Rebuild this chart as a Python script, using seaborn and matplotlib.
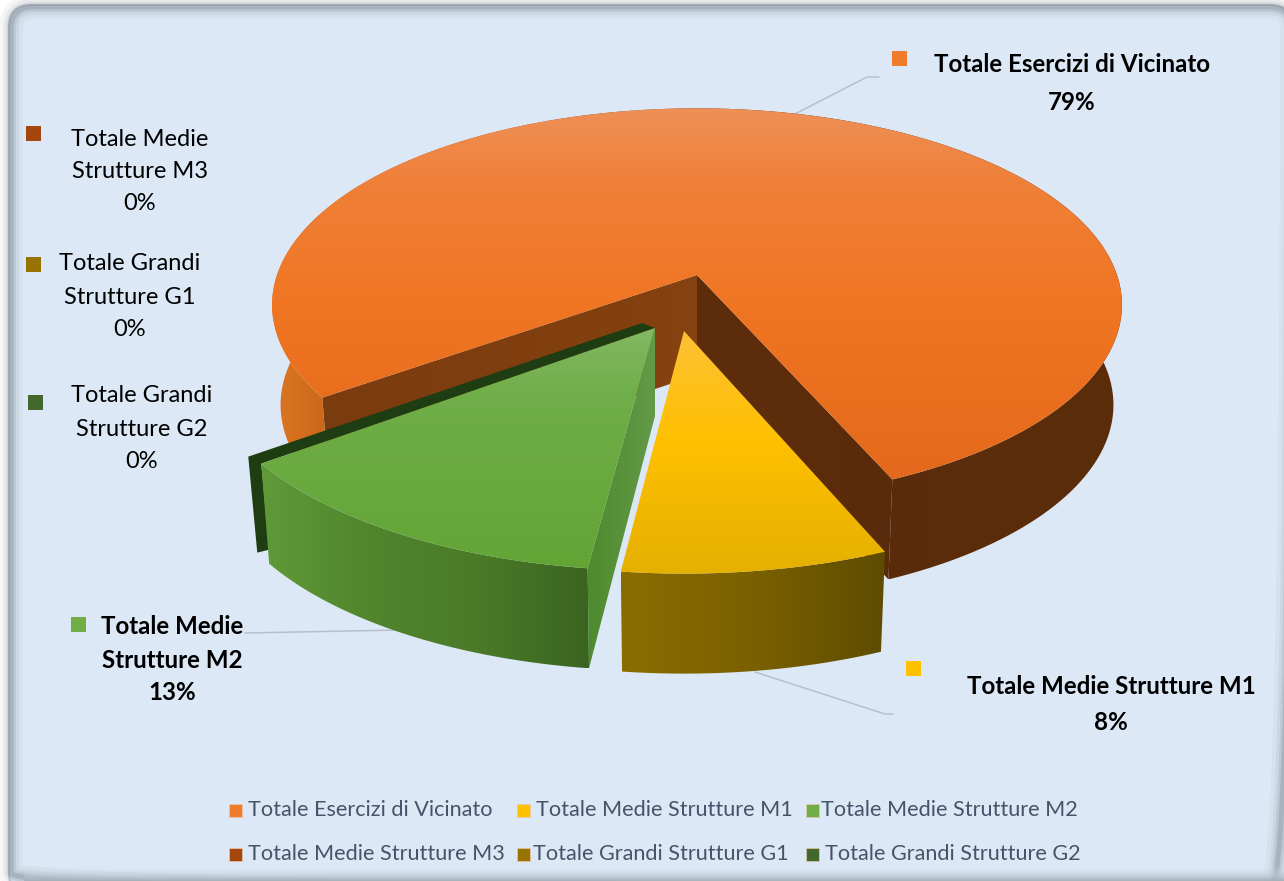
import numpy as np
import seaborn as sns
import matplotlib.pyplot as plt

from matplotlib.colors import LinearSegmentedColormap
from matplotlib.patches import FancyBboxPatch, Polygon, Rectangle

# chart values
categories = [
    "Totale Esercizi di Vicinato",
    "Totale Medie Strutture M1",
    "Totale Medie Strutture M2",
    "Totale Medie Strutture M3",
    "Totale Grandi Strutture G1",
    "Totale Grandi Strutture G2",
]
shares = [79, 8, 13, 0, 0, 0]
colors = ["#F07C2B", "#FFC000", "#70AD47", "#A5470D", "#997300", "#43682B"]

W, H = 1284, 881
FIRST_ANGLE = 233
ORANGE_TRIM = (1.4, 1.0)
SPLIT_NUDGE = (0.65, 1.1)
CX, CY, RX, RY, PERSP, DEPTH = 697, 275, 420, 192, 0.152, 100
EXPLODE = [(0, 0), (-13, 56), (-42, 53)]
SCALE = [1.0, 1.06, 1.06]

sns.set_theme(style="white")
plt.rcParams["font.family"] = ["Lato", "DejaVu Sans"]
palette = sns.color_palette(colors)

fig = plt.figure(figsize=(W / 100, H / 100), dpi=100, facecolor="white")
ax = fig.add_axes([0, 0, 1, 1])


def arc(start, end, dx=0, dy=0, scale=1.0, depth=0):
    theta = np.radians(np.linspace(start, end, 200))
    u, v = np.sin(theta) * scale, -np.cos(theta) * scale
    w = 1 - PERSP * v
    shrink = 0.98 if depth > 0 else 1.0
    x = CX + dx + RX * u / w * shrink
    y = CY + dy + RY * v / w + depth
    return np.column_stack([x, y])


def shaded(points, stops, vertical=True, zorder=2):
    # gradient image clipped to the face outline
    cmap = LinearSegmentedColormap.from_list("face", stops)
    grad = np.linspace(0, 1, 256)
    grad = grad[:, None] if vertical else grad[None, :]
    x0, x1 = points[:, 0].min(), points[:, 0].max()
    y0, y1 = points[:, 1].min(), points[:, 1].max()
    img = ax.imshow(grad, cmap=cmap, extent=(x0, x1, y1, y0), aspect="auto",
                    interpolation="bilinear", zorder=zorder)
    img.set_clip_path(Polygon(points, closed=True, transform=ax.transData))


def wedge_outline(start, end, dx, dy, scale):
    apex = np.array([[CX + dx, CY + dy]], dtype=float)
    return apex, arc(start, end, dx, dy, scale), arc(start, end, dx, dy, scale, DEPTH)


# panel with soft inner shadow
box = "round,pad=0,rounding_size=22"
ax.add_patch(FancyBboxPatch((9, 5), 1283, 890, boxstyle=box, fc="#DCE8F5", ec="#C6CFD8", lw=1.5, zorder=0))
for lw, alpha in zip([24, 16, 10, 5], [0.05, 0.08, 0.12, 0.2]):
    ax.add_patch(FancyBboxPatch((11, 7), 1281, 888, boxstyle=box, fc="none", ec="#56626A",
                                lw=lw * 0.72, alpha=alpha, zorder=0.5))
shaded(np.array([[24, 866], [W, 866], [W, H], [24, H]], dtype=float),
       [(0.86, 0.91, 0.96, 0), "#A6B2B9"], zorder=0.6)

angles = FIRST_ANGLE + 3.6 * np.cumsum([0] + shares)

# Esercizi di Vicinato
start, end = angles[0] + ORANGE_TRIM[0], angles[1] - ORANGE_TRIM[1]
apex, top, bottom = wedge_outline(start, end, *EXPLODE[0], SCALE[0])
face_left = np.vstack([apex, top[:1], bottom[:1], apex + [0, DEPTH]])
face_right = np.vstack([apex, top[-1:], bottom[-1:], apex + [0, DEPTH]])
shaded(face_left, ["#7A3B10", "#86420F"], vertical=False)
shaded(face_right, ["#5E2D0C", "#5A2B0A"], vertical=False)
shaded(np.vstack([top, bottom[::-1]]),
       [(0, "#DB7722"), (0.07, "#C9651A"), (0.45, "#8A4412"), (0.55, "#5A2B0A"), (1, "#5C2D0B")],
       vertical=False)
shaded(np.vstack([apex, top]),
       [(0, "#EE9058"), (0.2, "#F08038"), (0.55, "#EF7522"), (1, "#E4691C")], zorder=3)

# Medie Strutture M2 outline, needed for the G2 slab too
m2_apex, m2_top, m2_bottom = wedge_outline(angles[2] + SPLIT_NUDGE[1], angles[3], *EXPLODE[2], SCALE[2])

# Grandi Strutture G2, zero width slab behind M2
rim = m2_top[-1]
strip = np.array([m2_apex[0] + [-13, -5], rim + [-13, -7], rim + [-4, 89], rim + [8, 86], rim, m2_apex[0]])
ax.add_patch(Polygon(strip, closed=True, fc="#1F3D12", ec="none", zorder=3.2))

# Medie Strutture M2
shaded(np.vstack([m2_apex, m2_top[:1], m2_bottom[:1], m2_apex + [0, DEPTH - 12]]),
       ["#4E8A2E", "#639A48"], vertical=False, zorder=3.3)
shaded(np.vstack([m2_top, m2_bottom[::-1]]),
       ["#5F9A38", "#52852E", "#4A7A28", "#3A6420"], vertical=False, zorder=3.4)
shaded(np.vstack([m2_apex, m2_top]),
       [(0, "#82B862"), (0.3, "#6FAE48"), (1, "#62A535")], zorder=3.5)

# Medie Strutture M1
m1_apex, m1_top, m1_bottom = wedge_outline(angles[1], angles[2] + SPLIT_NUDGE[0], *EXPLODE[1], SCALE[1])
shaded(np.vstack([m1_top, m1_bottom[::-1]]),
       ["#8A6D00", "#7A6000", "#5E4C00"], vertical=False, zorder=3.6)
shaded(np.vstack([m1_apex, m1_top]),
       [(0, "#FDC135"), (0.45, "#FFC000"), (1, "#E5B000")], zorder=3.7)

# leader lines
leaders = [
    ([793, 867, 879], [115, 77, 77]),
    ([245, 400], [633, 630]),
    ([755, 885, 893], [672, 714, 714]),
]
for lx, ly in leaders:
    ax.plot(lx, ly, color="#B4C0CE", lw=1.1, zorder=1)

# data labels: category index, text lines, centre x, first line centre, spacing, bold
data_labels = [
    (0, ["Totale Esercizi di Vicinato"], 1072, 65, 37, True),
    (1, ["Totale Medie Strutture M1"], 1111, 687, 36, True),
    (2, ["Totale Medie", "Strutture M2"], 172, 627, 33, True),
    (3, ["Totale Medie", "Strutture M3"], 140, 140, 32, False),
    (4, ["Totale Grandi", "Strutture G1"], 130, 264, 33, False),
    (5, ["Totale Grandi", "Strutture G2"], 142, 396, 33, False),
]
for idx, lines, x, y, step, bold in data_labels:
    for i, line in enumerate(lines + [f"{shares[idx]}%"]):
        ax.text(x, y + i * step, line, ha="center", va="center",
                fontsize=17.4 if bold else 17,
                fontweight="bold" if bold else "normal", color="black", zorder=5)

label_squares = [(0, 899, 58), (1, 913, 668), (2, 78, 624), (3, 33, 133), (4, 33, 264), (5, 35, 402)]
for idx, x, y in label_squares:
    ax.add_patch(Rectangle((x - 7.5, y - 7.5), 15, 15, fc=palette[idx], ec="none", zorder=5))

# legend
legend_pos = [(229, 810, 248), (517, 810, 536), (806, 810, 821),
              (229, 854, 248), (517, 854, 533), (806, 854, 825)]
for (sx, sy, tx), name, col in zip(legend_pos, categories, palette):
    ax.add_patch(Rectangle((sx, sy - 6.5), 13, 13, fc=col, ec="#E8C8B0", lw=0.5, zorder=5))
    ax.text(tx, sy, name, ha="left", va="center", fontsize=15.6, color="#44546A", zorder=5)

ax.set_xlim(0, W)
ax.set_ylim(H, 0)
ax.axis("off")

fig.savefig("out.png", dpi=100)
plt.close(fig)
